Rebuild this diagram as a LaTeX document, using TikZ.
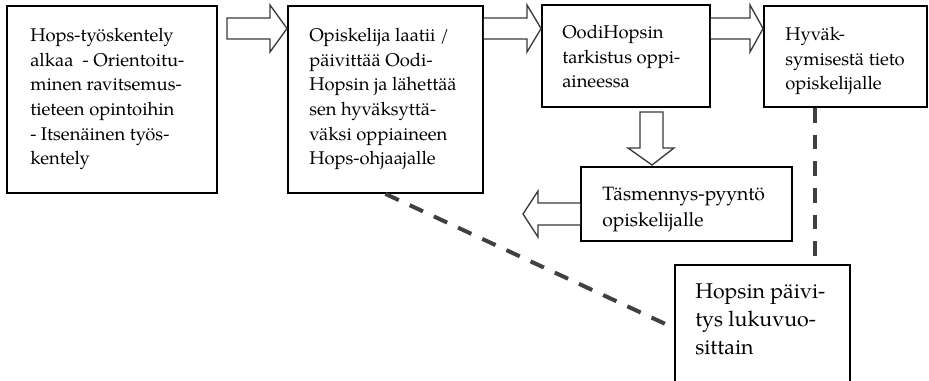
\documentclass[tikz,border=0pt]{standalone}
\usepackage{fontspec}
\setmainfont{texgyrepagella}[Extension=.otf, UprightFont=*-regular, BoldFont=*-bold, ItalicFont=*-italic]
\usetikzlibrary{fit,calc}
\definecolor{arrowgray}{HTML}{3A3A3A}
\definecolor{dashgray}{HTML}{404040}
\tikzset{
  box/.style={draw=black, line width=1.4pt, fill=white, inner sep=0pt},
  txt/.style={anchor=north west, inner sep=0pt, align=left, font=\fontsize{13.8pt}{18.5pt}\selectfont},
  txtsmall/.style={txt, font=\fontsize{14.5pt}{19.5pt}\selectfont},
  txtbig/.style={txt, font=\fontsize{16pt}{21pt}\selectfont},
  blockarrow/.style={draw=arrowgray, line width=1pt, fill=white, line join=miter},
  dashline/.style={draw=dashgray, line width=3pt, dash pattern=on 11pt off 9pt}
}
\begin{document}
\begin{tikzpicture}[x=0.75pt, y=-0.75pt]
\useasboundingbox (0,0) rectangle (929,380);
\clip (0,0) rectangle (929,380);
% boxes
\node[box, fit={(7,6) (217,193)}] (b1) {};
\node[box, fit={(288,6) (483,193)}] (b2) {};
\node[box, fit={(542,5) (710,107)}] (b3) {};
\node[box, fit={(764,6) (927,107)}] (b4) {};
\node[box, fit={(581,167) (792,241)}] (b5) {};
\node[box, fit={(675,265) (850,391)}] (b6) {};
% texts
\node[txt] (t1) at (30,28) {Hops-työskentely\\alkaa~ - Orientoitu-\\minen ravitsemus-\\tieteen opintoihin\\- Itsenäinen työs-\\kentely};
\node[txt] (t2) at (309,28) {Opiskelija laatii /\\päivittää Oodi-\\Hopsin ja lähettää\\sen hyväksyttä-\\väksi oppiaineen\\Hops-ohjaajalle};
\node[txt] (t3) at (562,25) {OodiHopsin\\tarkistus oppi-\\aineessa};
\node[txt] (t4) at (785,27) {Hyväk-\\symisestä tieto\\opiskelijalle};
\node[txtsmall] (t5) at (602,187) {Täsmennys-pyyntö\\opiskelijalle};
\node[txtbig] (t6) at (695,283) {Hopsin päivi-\\tys lukuvuo-\\sittain};
% block arrows
\draw[blockarrow] (227,18) -- (270,18) -- (270,5) -- (287,28.5) -- (270,52) -- (270,39) -- (227,39) -- cycle;
\draw[blockarrow] (b2.east |- 0,18) -- (527,18) -- (527,5) -- (b3.west |- 0,28.5) -- (527,52) -- (527,39) -- (b2.east |- 0,39);
\draw[blockarrow] (b3.east |- 0,18) -- (750,18) -- (750,5) -- (b4.west |- 0,28.5) -- (750,52) -- (750,39) -- (b3.east |- 0,39);
\draw[blockarrow] (640,112) -- (663,112) -- (663,148) -- (674,148) -- (652,165) -- (628,148) -- (640,148) -- cycle;
\draw[blockarrow] (b5.west |- 0,203) -- (538,203) -- (538,191) -- (523,214) -- (538,237) -- (538,225) -- (b5.west |- 0,225);
% dashed connectors
\draw[dashline] (b2.south) -- (b6.west);
\coordinate (v) at ($(b4.south west)+(52,0)$);
\draw[dashline] (v) -- (v |- b6.north);
\end{tikzpicture}
\end{document}
